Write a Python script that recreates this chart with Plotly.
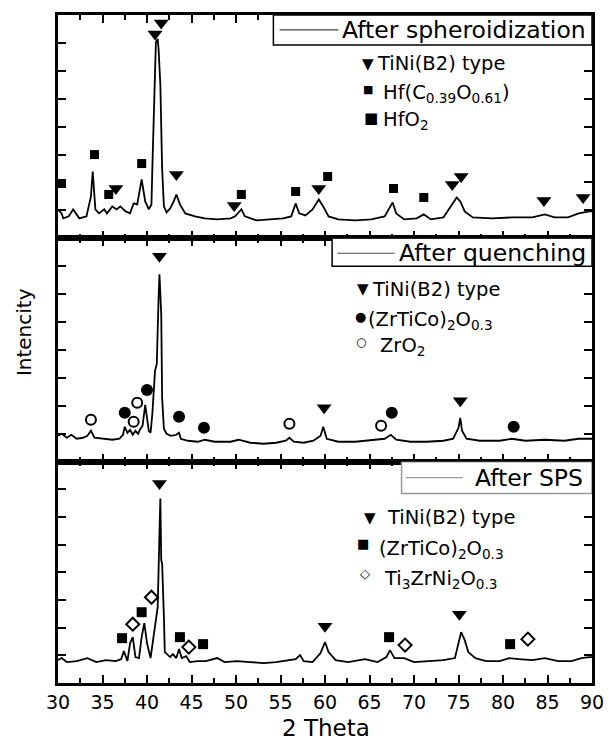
import plotly.graph_objects as go
from plotly.subplots import make_subplots

# ---------------- data (2 Theta in degrees, intensity in arbitrary units) ----------------
theta_sph = [30.0, 30.4, 30.6, 31.2, 31.7, 32.4, 33.2, 33.7, 33.9, 34.2, 34.6, 35.2, 35.5, 36.1,
             36.6, 37.0, 37.6, 38.1, 38.5, 38.9, 39.4, 39.6, 39.8, 40.2, 40.5, 40.6, 40.8, 41.0,
             41.2, 41.3, 41.5, 41.7, 41.9, 42.2, 42.6, 43.0, 43.3, 43.7, 44.3, 45.4, 46.5, 47.9,
             49.4, 49.9, 50.6, 51.0, 52.3, 53.8, 55.3, 56.2, 56.7, 57.1, 57.8, 58.6, 59.3, 59.8,
             60.4, 61.5, 63.4, 65.2, 66.7, 67.6, 68.0, 68.9, 70.3, 71.1, 71.9, 73.3, 74.1, 74.8,
             75.2, 75.7, 76.6, 78.8, 81.0, 83.3, 84.7, 85.8, 87.3, 88.5, 89.7, 90.0]
int_sph = [29, 25, 20, 22, 29, 20, 22, 42, 67, 29, 25, 29, 25, 32,
           29, 32, 27, 25, 35, 34, 59, 47, 37, 29, 34, 70, 137, 197,
           200, 190, 154, 70, 32, 26, 30, 37, 44, 34, 25, 22, 20, 19,
           20, 22, 29, 22, 18, 19, 20, 22, 35, 25, 23, 29, 39, 32,
           22, 19, 18, 19, 22, 36, 25, 19, 20, 24, 19, 21, 32, 41,
           37, 27, 21, 20, 21, 21, 24, 21, 21, 25, 27, 27]

theta_que = [30.0, 30.4, 31.0, 31.5, 32.1, 32.8, 33.3, 33.7, 34.1, 35.0, 36.1, 36.9, 37.3, 37.5,
             37.8, 38.1, 38.4, 38.7, 39.0, 39.2, 39.5, 39.8, 40.0, 40.2, 40.4, 40.6, 40.9, 41.1,
             41.3, 41.4, 41.6, 41.7, 41.9, 42.2, 42.7, 43.3, 43.6, 43.8, 44.6, 45.7, 46.5, 47.6,
             49.4, 50.3, 51.6, 53.1, 54.5, 55.6, 56.0, 56.5, 57.6, 58.7, 59.5, 59.8, 60.2, 61.5,
             63.4, 65.2, 66.7, 67.4, 68.0, 69.6, 71.4, 73.3, 74.4, 75.0, 75.2, 75.4, 75.9, 77.4,
             79.6, 81.0, 82.5, 84.7, 86.9, 88.5, 89.6, 90.0]
int_que = [26, 28, 24, 27, 23, 24, 26, 31, 24, 23, 22, 23, 27, 35,
           29, 32, 27, 31, 28, 32, 36, 57, 44, 31, 29, 48, 91, 98,
           164, 188, 148, 64, 33, 28, 26, 27, 29, 23, 21, 20, 22, 20,
           20, 22, 19, 18, 19, 21, 24, 20, 19, 21, 26, 35, 23, 20,
           20, 22, 23, 27, 22, 20, 20, 21, 23, 34, 44, 31, 23, 21,
           21, 23, 21, 22, 21, 23, 23, 23]

theta_sps = [30.0, 30.4, 31.0, 32.1, 33.3, 34.3, 35.4, 36.5, 37.1, 37.4, 37.8, 38.1, 38.4, 38.7,
             39.1, 39.4, 39.7, 40.0, 40.4, 40.7, 41.0, 41.2, 41.4, 41.5, 41.6, 41.7, 41.9, 42.0,
             42.6, 42.9, 43.3, 43.6, 43.9, 44.4, 44.8, 45.7, 46.6, 47.9, 48.7, 50.1, 51.6, 53.1,
             54.5, 56.0, 56.7, 57.2, 57.6, 58.6, 59.5, 60.0, 60.4, 61.2, 62.6, 64.5, 65.9, 66.9,
             67.3, 67.8, 68.9, 70.0, 71.4, 73.3, 74.6, 75.0, 75.3, 75.7, 76.1, 76.9, 78.1, 79.6,
             80.7, 81.8, 83.3, 84.7, 86.2, 87.7, 88.8, 89.7, 90.0]
int_sps = [23, 25, 21, 22, 25, 21, 23, 22, 24, 32, 22, 40, 46, 26,
           25, 46, 60, 40, 25, 46, 66, 76, 150, 185, 123, 120, 66, 31,
           26, 29, 25, 34, 25, 27, 21, 22, 22, 25, 21, 22, 21, 20,
           21, 23, 24, 28, 22, 21, 30, 41, 31, 23, 21, 24, 21, 26,
           33, 25, 25, 21, 22, 23, 25, 40, 51, 43, 31, 25, 22, 22,
           25, 24, 23, 25, 22, 22, 25, 26, 26]

# phase markers: panel 1 (after spheroidization)
sph_tini_x = [36.5, 40.9, 41.6, 43.3, 49.8, 59.3, 74.3, 75.3, 84.6, 89.0]
sph_tini_y = [50, 205, 216, 64, 33, 50, 54, 62, 38, 41]
sph_hf_x = [30.4, 34.1, 35.7, 39.4, 50.6, 56.7, 60.3, 67.7, 71.1]
sph_hf_y = [55, 84, 44, 75, 44, 47, 62, 50, 41]

# panel 2 (after quenching)
que_tini_x = [41.4, 59.9, 75.2]
que_tini_y = [206, 54, 61]
que_zrtico_x = [37.5, 40.0, 43.6, 46.4, 67.5, 81.2]
que_zrtico_y = [49, 72, 45, 34, 49, 35]
que_zro2_x = [33.7, 38.5, 38.9, 56.0, 66.3]
que_zro2_y = [42, 40, 59, 38, 36]

# panel 3 (after SPS)
sps_tini_x = [41.4, 60.0, 75.1]
sps_tini_y = [200, 57, 69]
sps_zrtico_x = [37.2, 39.4, 43.7, 46.3, 67.2, 80.8]
sps_zrtico_y = [45, 71, 46, 39, 46, 39]
sps_ti3_x = [38.4, 40.5, 44.7, 69.0, 82.8]
sps_ti3_y = [59, 86, 36, 38, 44]

x_ticks = [30, 35, 40, 45, 50, 55, 60, 65, 70, 75, 80, 85, 90]
panel_titles = ["After spheroidization", "After quenching", "After SPS"]

# ---------------- figure ----------------
FONT = "DejaVu Sans"
fig = make_subplots(rows=3, cols=1, shared_xaxes=True, vertical_spacing=0)

def line(x, y, row):
    fig.add_trace(go.Scatter(x=x, y=y, mode="lines", line=dict(color="black", width=1.8),
                             showlegend=False, hoverinfo="skip"), row=row, col=1)

def marks(x, y, row, symbol, size, filled=True):
    m = dict(symbol=symbol, size=size, color="black" if filled else "white",
             line=dict(color="black", width=0 if filled else 2))
    fig.add_trace(go.Scatter(x=x, y=y, mode="markers", marker=m, cliponaxis=False,
                             showlegend=False, hoverinfo="skip"), row=row, col=1)

line(theta_sph, int_sph, 1)
marks(sph_tini_x, sph_tini_y, 1, "triangle-down", 13)
marks(sph_hf_x, sph_hf_y, 1, "square", 9)

line(theta_que, int_que, 2)
marks(que_tini_x, que_tini_y, 2, "triangle-down", 13)
marks(que_zrtico_x, que_zrtico_y, 2, "circle", 12)
marks(que_zro2_x, que_zro2_y, 2, "circle", 10, filled=False)

line(theta_sps, int_sps, 3)
marks(sps_tini_x, sps_tini_y, 3, "triangle-down", 13)
marks(sps_zrtico_x, sps_zrtico_y, 3, "square", 10)
marks(sps_ti3_x, sps_ti3_y, 3, "diamond", 10, filled=False)

xa = dict(range=[30, 90], tickvals=x_ticks, ticks="inside", ticklen=8, tickwidth=1.5,
          tickcolor="black", showline=True, linecolor="black", linewidth=2.5, mirror="allticks",
          showgrid=False, zeroline=False,
          minor=dict(dtick=2.5, tick0=30, ticks="inside", ticklen=5, tickwidth=1.5,
                     tickcolor="black", showgrid=False),
          tickfont=dict(family=FONT, size=19, color="black"))
fig.update_xaxes(**xa)
fig.update_xaxes(showticklabels=False, row=1, col=1)
fig.update_xaxes(showticklabels=False, row=2, col=1)
fig.update_xaxes(showticklabels=True, row=3, col=1)

ya = dict(ticks="inside", ticklen=8, tickwidth=1.5, tickcolor="black", showticklabels=False,
          showline=True, linecolor="black", linewidth=2.5, mirror="allticks",
          showgrid=False, zeroline=False)
fig.update_yaxes(**ya)
fig.update_layout(
    yaxis=dict(domain=[0.6657, 1.0], range=[0, 224], tick0=0, dtick=28),
    yaxis2=dict(domain=[0.3313, 0.6657], range=[0, 224], tick0=0, dtick=28),
    yaxis3=dict(domain=[0.0, 0.3313], range=[0, 222], tick0=0, dtick=27.75),
)

shapes = []
annotations = []

def box(row, x0, y0, y1, lx0, lx1, ly, border, linecol, title, tx, fs):
    xr = "x" if row == 1 else "x%d" % row
    yr = "y" if row == 1 else "y%d" % row
    shapes.append(dict(type="rect", xref=xr, yref=yr, x0=x0, x1=90, y0=y0, y1=y1,
                       line=dict(color=border, width=1.5), fillcolor="white", layer="above"))
    shapes.append(dict(type="line", xref=xr, yref=yr, x0=lx0, x1=lx1, y0=ly, y1=ly,
                       line=dict(color=linecol, width=1.2), layer="above"))
    annotations.append(dict(xref=xr, yref=yr, x=tx, y=ly, text=title, showarrow=False,
                            xanchor="right", yanchor="middle",
                            font=dict(family=FONT, size=fs, color="black")))

box(1, 54.2, 194, 224, 54.9, 61.5, 209, "black", "#444", panel_titles[0], 89.5, 23.5)
box(2, 60.8, 196, 224, 61.4, 67.8, 209, "black", "#444", panel_titles[1], 89.5, 23.5)
box(3, 68.6, 190, 222, 69.1, 75.5, 206, "#999", "#999", panel_titles[2], 89.2, 23.5)

def txt(row, x, y, s, size=18, anchor="left"):
    xr = "x" if row == 1 else "x%d" % row
    yr = "y" if row == 1 else "y%d" % row
    annotations.append(dict(xref=xr, yref=yr, x=x, y=y, text=s, showarrow=False,
                            xanchor=anchor, yanchor="middle",
                            font=dict(family=FONT, size=size, color="black")))

# legend keys (panel 1)
txt(1, 64.8, 175, "▼", 15, "center")
txt(1, 65.6, 175, "TiNi(B2) type", 19.5)
txt(1, 64.8, 149, "■", 11, "center")
txt(1, 66.3, 145, "Hf(C<sub>0.39</sub>O<sub>0.61</sub>)", 19.5)
txt(1, 65.2, 121, "■", 15, "center")
txt(1, 66.3, 118, "HfO<sub>2</sub>", 19.5)
# panel 2
txt(2, 64.3, 173, "▼", 15, "center")
txt(2, 65.1, 173, "TiNi(B2) type", 19.5)
txt(2, 64.0, 146, "●", 13, "center")
txt(2, 64.6, 142, "(ZrTiCo)<sub>2</sub>O<sub>0.3</sub>", 19.5)
txt(2, 64.0, 120, "○", 12, "center")
txt(2, 66.0, 116, "ZrO<sub>2</sub>", 19.5)
# panel 3
txt(3, 65.0, 166, "▼", 15, "center")
txt(3, 66.7, 166, "TiNi(B2) type", 19.5)
txt(3, 64.3, 140, "■", 13, "center")
txt(3, 65.8, 134, "(ZrTiCo)<sub>2</sub>O<sub>0.3</sub>", 19.5)
txt(3, 64.5, 110, "◇", 13, "center")
txt(3, 66.4, 104, "Ti<sub>3</sub>ZrNi<sub>2</sub>O<sub>0.3</sub>", 19.5)

# axis titles
annotations.append(dict(xref="paper", yref="paper", x=-0.064, y=0.525, text="Intencity",
                        textangle=-90, showarrow=False, xanchor="center", yanchor="middle",
                        font=dict(family=FONT, size=20, color="black")))
annotations.append(dict(xref="paper", yref="paper", x=0.502, y=-0.0905, text="2 Theta",
                        showarrow=False, xanchor="center", yanchor="bottom",
                        font=dict(family=FONT, size=23, color="black")))

fig.update_layout(width=616, height=744, margin=dict(l=58, r=15, t=13, b=61),
                  plot_bgcolor="white", paper_bgcolor="white",
                  shapes=shapes, annotations=annotations, showlegend=False,
                  font=dict(family=FONT, color="black"))

fig.write_html("out.html")
